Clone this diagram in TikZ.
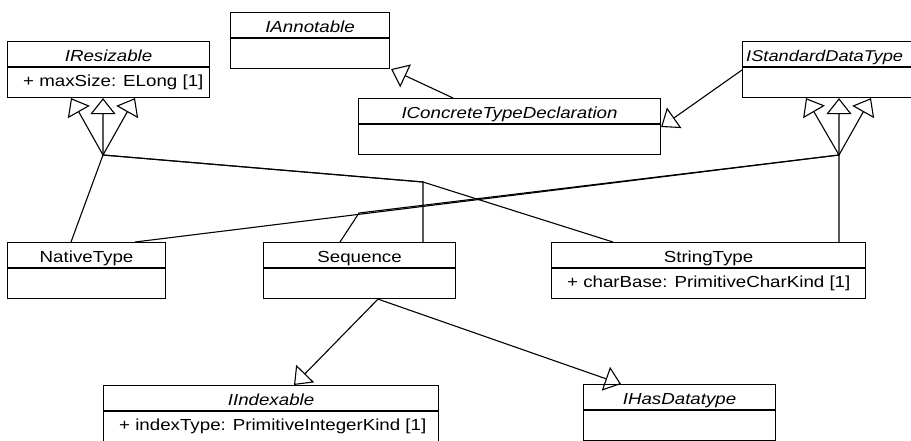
\documentclass[tikz,border=0pt]{standalone}
\usepackage{fontspec}
\setmainfont{Liberation Sans}[FakeStretch=1.17]
\usetikzlibrary{arrows.meta}

\tikzset{
	umlbox/.style={draw, line width=1.1pt, minimum height=56pt, inner sep=0pt, anchor=north west},
	umltext/.style={inner sep=0pt, text height=11.5pt, text depth=3pt},
	gen/.style={line width=1.1pt, -{Triangle[open, length=16pt, width=25pt]}},
}
\newcommand{\classbox}[6]{%
	\node[umlbox, minimum width=#4pt] (#1) at (#2,#3) {};
	\draw[line width=1.1pt] ([yshift=-26pt]#1.north west) -- ([yshift=-26pt]#1.north east);
	\node[umltext] (#1-name) at ([yshift=-16.5pt]#1.north) {#5};
	\node[umltext, anchor=west] (#1-attr) at ([xshift=16pt,yshift=-41.5pt]#1.north west) {#6};
}

\begin{document}
\begin{tikzpicture}[x=1pt, y=-1pt, font=\fontsize{16}{19}\selectfont]
		\useasboundingbox (0,0) rectangle (911,440);
		\clip (0,0) rectangle (911,440);
		
		\classbox{annot}{230}{12}{159}{\textit{IAnnotable}}{}
		\classbox{resz}{7}{41}{202}{\textit{IResizable}}{+ maxSize: ELong [1]}
		\classbox{concr}{358}{98}{302}{\textit{IConcreteTypeDeclaration}}{}
		\classbox{stdt}{742}{41}{180}{}{}
		\node[umltext, anchor=base west, font=\fontsize{15.6}{19}\selectfont] (stdt-title) at ([xshift=4pt,yshift=-20.75pt]stdt.north west) {\textit{IStandardDataType}};
		\classbox{native}{7}{242}{158}{NativeType}{}
		\classbox{seq}{263}{242}{192}{Sequence}{}
		\classbox{strt}{551}{242}{314}{StringType}{+ charBase: PrimitiveCharKind [1]}
		\classbox{idx}{103}{385}{335}{\textit{IIndexable}}{+ indexType: PrimitiveIntegerKind [1]}
		\classbox{hasdt}{583}{384}{192}{\textit{IHasDatatype}}{}
		
		\coordinate (rjoin) at (103,155);
		\coordinate (sjoin) at (839,155);
		\coordinate (rbend) at (423,182);
		\coordinate (sbend) at (359,213);
		
		\draw[gen] ([xshift=64pt]native.north west) -- (rjoin) -- ([xshift=64pt]resz.south west);
		\draw[gen] ([xshift=160pt]seq.north west) -- (rbend) -- (rjoin) -- ([xshift=96pt]resz.south west);
		\draw[gen] ([xshift=62pt]strt.north west) -- (rbend) -- (rjoin) -- ([xshift=128pt]resz.south west);
		
		\draw[gen] ([xshift=128pt]native.north west) -- (sjoin) -- ([xshift=64pt]stdt.south west);
		\draw[gen] ([xshift=77pt]seq.north west) -- (sbend) -- (sjoin) -- ([xshift=97pt]stdt.south west);
		\draw[gen] ([xshift=288pt]strt.north west) -- (sjoin) -- ([xshift=129pt]stdt.south west);
		
		\draw[gen] ([xshift=95pt]concr.north west) -- ([xshift=1pt]annot.south east);
		\draw[gen] ([yshift=-29pt]stdt.north west) -- ([yshift=-29pt]concr.north east);
		
		\draw[gen] ([xshift=115pt]seq.south west) -- ([xshift=191pt]idx.north west);
		\draw[gen] ([xshift=115pt]seq.south west) -- ([xshift=38pt]hasdt.north west);
\end{tikzpicture}
\end{document}
